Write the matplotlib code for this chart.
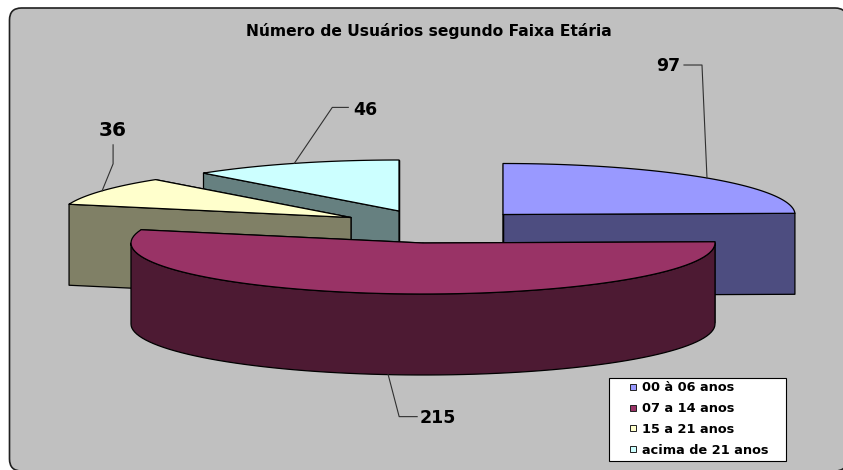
import numpy as np
import matplotlib
matplotlib.use("Agg")
import matplotlib.pyplot as plt
from matplotlib.lines import Line2D
from matplotlib.patches import FancyBboxPatch, Polygon

titulo = "Número de Usuários segundo Faixa Etária"
faixas = ["00 à 06 anos", "07 a 14 anos", "15 a 21 anos", "acima de 21 anos"]
usuarios = [97, 215, 36, 46]

cor_topo = ["#9999FF", "#993366", "#FFFFCC", "#CCFFFF"]
cor_lado = ["#4D4D80", "#4D1A33", "#808066", "#668080"]

# centro de cada fatia (explodida) em pixels
centros = [(503, 214.5), (423, 243), (351, 217.5), (399, 211)]
# cotovelo e ponta da linha de chamada, relativos ao ponto na borda
chamadas = [((-5, -113), (-23, -113)), ((11, 42), (29, 42)),
            ((11, -27), (11, -46)), ((38, -56), (54, -56))]
rotulos = [(668, 66, 12.5), (438, 418, 12.5), (113, 131, 14.5), (365, 110, 12.5)]
rx, ry, prof = 292, 51, 81


def ponto(c, a):
    return c[0] + rx * np.sin(a), c[1] - ry * np.cos(a)


def fatia(ax, c, a0, a1, topo, lado, z):
    ee = dict(edgecolor="black", linewidth=0.9, joinstyle="round", zorder=z)
    # faces de corte
    for a in (a1, a0):
        x, y = ponto(c, a)
        ax.add_patch(Polygon([c, (x, y), (x, y + prof), (c[0], c[1] + prof)],
                             facecolor=lado, **ee))
    # parede externa (so a parte da frente)
    b0, b1 = max(a0, np.pi / 2), min(a1, 3 * np.pi / 2)
    if b1 > b0:
        aa = np.linspace(b0, b1, 80)
        x, y = ponto(c, aa)
        ax.add_patch(Polygon(np.r_[np.c_[x, y], np.c_[x, y + prof][::-1]],
                             facecolor=lado, **ee))
    aa = np.linspace(a0, a1, 80)
    x, y = ponto(c, aa)
    ax.add_patch(Polygon(np.r_[[c], np.c_[x, y]], facecolor=topo, **ee))


fig = plt.figure(figsize=(8.43, 4.70), dpi=100, facecolor="white")
ax = fig.add_axes([0, 0, 1, 1])
ax.set_xlim(0, 843)
ax.set_ylim(470, 0)
ax.axis("off")

# a moldura passa da borda direita e de baixo da imagem
ax.add_patch(FancyBboxPatch((9.5, 8), 837.5, 463,
                            boxstyle="round,pad=0,rounding_size=12",
                            facecolor="#C0C0C0", edgecolor="#202020", linewidth=1.2))

ax.text(429, 31, titulo, ha="center", va="center", fontsize=11.15,
        fontweight="bold", family="DejaVu Sans")

angulos = np.r_[0, np.cumsum(usuarios)] / sum(usuarios) * 2 * np.pi
for i, z in zip([3, 2, 0, 1], [2, 3, 4, 5]):
    fatia(ax, centros[i], angulos[i], angulos[i + 1], cor_topo[i], cor_lado[i], z)

for i, v in enumerate(usuarios):
    meio = (angulos[i] + angulos[i + 1]) / 2
    x, y = ponto(centros[i], meio)
    if np.cos(meio) < 0:
        y += prof
    (dx1, dy1), (dx2, dy2) = chamadas[i]
    ax.plot([x, x + dx1, x + dx2], [y, y + dy1, y + dy2], color="#303030", lw=0.8, zorder=6)
    tx, ty, fs = rotulos[i]
    ax.text(tx, ty, str(v), ha="center", va="center", fontsize=fs, fontweight="bold", zorder=6)

alcas = [Line2D([], [], linestyle="none", marker="s", markersize=5.0, markerfacecolor=t,
                markeredgecolor="#202020", markeredgewidth=0.7) for t in cor_topo]
leg = ax.legend(alcas, faixas, loc="lower left",
                bbox_to_anchor=(609 / 843, 1 - 460.5 / 470, 177 / 843, 84 / 470),
                bbox_transform=ax.transAxes, mode="expand", frameon=True, fancybox=False,
                edgecolor="black", facecolor="white", framealpha=1,
                handlelength=3.1, handletextpad=-0.85, borderpad=0.3, labelspacing=0.6,
                borderaxespad=0, numpoints=1, prop=dict(weight="bold", size=9.3))
leg.get_frame().set_linewidth(0.8)
leg.set_zorder(7)

fig.savefig("out.png", dpi=100, facecolor="white")
